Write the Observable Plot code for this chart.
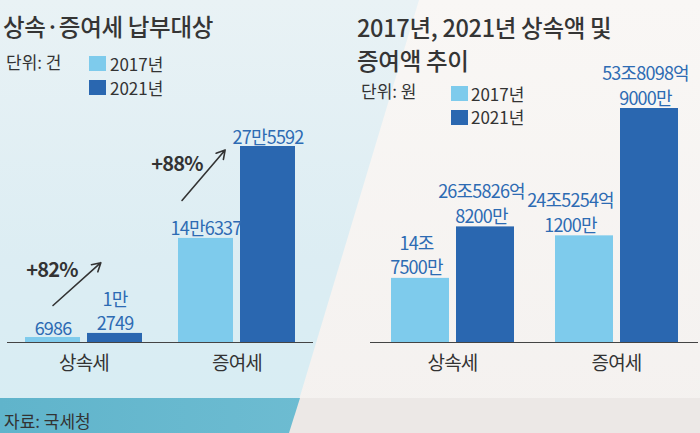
<!DOCTYPE html>
<html><head><meta charset="utf-8">
<script src="https://cdn.jsdelivr.net/npm/d3@7"></script>
<script src="https://cdn.jsdelivr.net/npm/@observablehq/plot@0.6"></script>
<style>
html,body{margin:0;padding:0;}
body{width:700px;height:433px;overflow:hidden;font-family:'Noto Sans CJK KR',sans-serif;color:#333;}
#wrap{position:relative;width:700px;height:433px;overflow:hidden;background:linear-gradient(180deg,#f9f7f5 0%,#f4f1ef 100%);}
.bgl{position:absolute;left:0;top:0;width:700px;height:433px;clip-path:polygon(0 0,419px 0,289px 433px,0 433px);
  background:linear-gradient(90deg,rgba(255,255,255,0) 70%,rgba(255,255,255,0.35) 100%),linear-gradient(180deg,#e9f2f5 0%,#dcedf3 60%,#d7edf3 100%);}
.strip{position:absolute;left:0;top:398px;width:700px;height:35px;background:#ece8e6;}
.stripl{position:absolute;left:0;top:398px;width:700px;height:35px;clip-path:polygon(0 0,300px 0,289px 35px,0 35px);
  background:linear-gradient(90deg,#60b4cb 0%,#72bfd4 60%,#86c9da 100%);}
.chart{position:absolute;z-index:2;}
.chart text{letter-spacing:-0.8px;}
.t{position:absolute;z-index:3;white-space:nowrap;line-height:1;}
.title{font-size:23.5px;font-weight:500;color:#353535;letter-spacing:-0.3px;}
.unit{font-size:17px;color:#333;}
.sw{position:absolute;z-index:3;width:17px;height:15px;}
</style></head>
<body><div id="wrap">
<div class="bgl"></div>
<div class="strip"></div>
<div class="stripl"></div>
<div class="t title" style="left:3px;top:15px;">상속·증여세 납부대상</div>
<div class="t title" style="left:357px;top:11px;line-height:33px;">2017년, 2021년 상속액 및<br>증여액 추이</div>
<div class="t unit" style="left:6px;top:53px;">단위: 건</div>
<div class="sw" style="left:89px;top:56px;background:#7ecbec"></div>
<div class="t unit" style="left:110px;top:55px;">2017년</div>
<div class="sw" style="left:89px;top:80px;background:#2a67b0"></div>
<div class="t unit" style="left:110px;top:79px;">2021년</div>
<div class="t unit" style="left:361px;top:82px;">단위: 원</div>
<div class="sw" style="left:451px;top:86px;background:#7ecbec"></div>
<div class="t unit" style="left:471px;top:85px;">2017년</div>
<div class="sw" style="left:451px;top:110px;background:#2a67b0"></div>
<div class="t unit" style="left:471px;top:108px;">2021년</div>
<div class="t unit" style="left:4px;top:412px;">자료: 국세청</div>
<div id="left" class="chart" style="left:0;top:40px;"></div>
<div id="right" class="chart" style="left:350px;top:40px;"></div>
</div>
<script>
const categories = ["상속세", "증여세"];
const years = ["2017년", "2021년"];
// order: 상속세 2017, 상속세 2021, 증여세 2017, 증여세 2021
const countValues = [6986, 12749, 146337, 275592];           // 건
const countLabels = ["6986", "1만\n2749", "14만6337", "27만5592"];
const amountValues = [14.75, 26.5827, 24.5254, 53.8099];     // 조 원
const amountLabels = ["14조\n7500만", "26조5826억\n8200만", "24조5254억\n1200만", "53조8098억\n9000만"];
const changeLabels = ["+82%", "+88%"];
const changeLabelY = [101000, 250000];
const arrowFromY = [52000, 199700];
const arrowToY = [130000, 301700];

const LIGHT = "#7ecbec", DARK = "#2a67b0", LABEL = "#2d6bb3";

function rowsOf(values, labels) {
  return values.map((v, i) => ({cat: categories[Math.floor(i / 2)], year: years[i % 2], value: v, label: labels[i]}));
}
const countRows = rowsOf(countValues, countLabels);
const amountRows = rowsOf(amountValues, amountLabels);
const annRows = categories.map((c, i) => ({cat: c, text: changeLabels[i], ty: changeLabelY[i], y1: arrowFromY[i], y2: arrowToY[i]}));

const common = {
  style: {background: "transparent", overflow: "visible", fontFamily: "'Noto Sans CJK KR', sans-serif", color: "#333"},
  color: {domain: years, range: [LIGHT, DARK]}
};

const left = Plot.plot({
  ...common,
  width: 320, height: 360,
  marginTop: 106, marginBottom: 58, marginLeft: 7, marginRight: 7,
  fx: {domain: categories, padding: 0, label: null},
  x: {domain: years, paddingInner: 0.113, paddingOuter: 0.29, axis: null},
  y: {domain: [0, d3.max(countValues)], axis: null},
  marks: [
    Plot.barY(countRows, {fx: "cat", x: "year", y: "value", fill: "year"}),
    Plot.ruleY([0], {stroke: "#444", strokeWidth: 1}),
    Plot.text(countRows, {fx: "cat", x: "year", y: "value", text: "label", lineAnchor: "bottom", dy: -3, fill: LABEL, fontSize: 18, lineHeight: 1.38}),
    Plot.arrow(annRows.filter(d => d.cat === "상속세"), {fx: "cat", x1: () => years[0], x2: () => years[1], y1: "y1", y2: "y2", insetEnd: 19, stroke: "#333", strokeWidth: 1.6, headLength: 9}),
    Plot.arrow(annRows.filter(d => d.cat === "증여세"), {fx: "cat", x1: () => years[0], x2: () => years[1], y1: "y1", y2: "y2", insetEnd: 29, dx: -24, stroke: "#333", strokeWidth: 1.6, headLength: 9}),
    Plot.text(annRows.filter(d => d.cat === "상속세"), {fx: "cat", x: () => years[0], y: "ty", text: "text", dx: -1, fontSize: 20, fontWeight: 700, fill: "#333"}),
    Plot.text(annRows.filter(d => d.cat === "증여세"), {fx: "cat", x: () => years[0], y: "ty", text: "text", dx: -29, fontSize: 20, fontWeight: 700, fill: "#333"}),
    Plot.axisFx({anchor: "bottom", tickSize: 0, tickPadding: 14, fontSize: 19, label: null})
  ]
});
document.getElementById("left").appendChild(left);

const right = Plot.plot({
  ...common,
  width: 350, height: 360,
  marginTop: 68, marginBottom: 58, marginLeft: 20, marginRight: 2,
  fx: {domain: categories, padding: 0, label: null},
  x: {domain: years, paddingInner: 0.108, paddingOuter: 0.315, axis: null},
  y: {domain: [0, d3.max(amountValues)], axis: null},
  marks: [
    Plot.barY(amountRows, {fx: "cat", x: "year", y: "value", fill: "year"}),
    Plot.ruleY([0], {stroke: "#444", strokeWidth: 1}),
    Plot.text(amountRows.filter(d => !(d.cat === "증여세" && d.year === "2017년")), {fx: "cat", x: "year", y: "value", text: "label", lineAnchor: "bottom", dy: -4, dx: -4, fill: LABEL, fontSize: 18, lineHeight: 1.38}),
    Plot.text(amountRows.filter(d => d.cat === "증여세" && d.year === "2017년"), {fx: "cat", x: "year", y: "value", text: "label", lineAnchor: "bottom", dy: -4, dx: -14, fill: LABEL, fontSize: 18, lineHeight: 1.38}),
    Plot.axisFx({anchor: "bottom", tickSize: 0, tickPadding: 14, fontSize: 19, label: null})
  ]
});
document.getElementById("right").appendChild(right);
</script>
</body></html>
